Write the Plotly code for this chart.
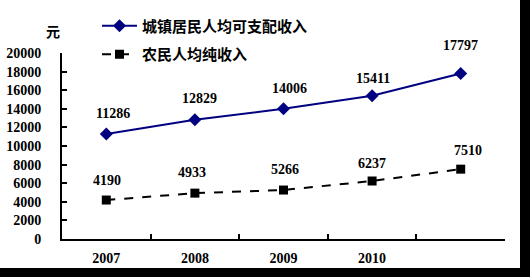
import plotly.graph_objects as go

years = ["2007", "2008", "2009", "2010", "2011"]
year_labels = ["2007", "2008", "2009", "2010", ""]
urban = [11286, 12829, 14006, 15411, 17797]
rural = [4190, 4933, 5266, 6237, 7510]
urban_name = "城镇居民人均可支配收入"
rural_name = "农民人均纯收入"

# label offsets (pixels)
urban_dx = [7, 5, 6, 1, 0]
urban_dy = [21, 21, 20, 17, 28]
rural_dx = [1, -3, 1, 0, 7]
rural_dy = [20, 21, 21, 18, 19]

W, H = 530, 277
L, R, T, B = 62, 25, 52.5, 38.3
pw = W - L - R
ph = H - T - B

num_font = dict(family="Liberation Serif, DejaVu Serif, serif", size=14, color="black")

fig = go.Figure()
fig.add_trace(go.Scatter(
    x=years, y=urban, name=urban_name, mode="lines+markers",
    line=dict(color="#000080", width=2),
    marker=dict(symbol="diamond", size=10, color="#000080"),
    legendgroup="a",
))
fig.add_trace(go.Scatter(
    x=years, y=rural, name=rural_name, mode="lines+markers",
    line=dict(color="black", width=2, dash="dash"),
    marker=dict(symbol="square", size=9, color="black"),
    legendgroup="b",
))

for ys, dxs, dys in [(urban, urban_dx, urban_dy), (rural, rural_dx, rural_dy)]:
    for i, (y, dx, dy) in enumerate(zip(ys, dxs, dys)):
        fig.add_annotation(x=i, y=y, xref="x", yref="y", text="<b>%d</b>" % y, showarrow=False,
                           xshift=dx, yshift=dy, font=num_font)

fig.add_annotation(xref="paper", yref="paper", x=(53 - L) / pw, y=1 + (T - 30) / ph,
                   xanchor="center", yanchor="middle",
                   text="<b>元</b>", showarrow=False,
                   font=dict(family="Noto Sans CJK SC", size=14, color="black"))

# black borders (right & bottom)
fig.add_shape(type="rect", xref="paper", yref="paper",
              x0=(520 - L) / pw, x1=(W + 5 - L) / pw, y0=(T + ph - (H + 5)) / ph, y1=(T + ph + 5) / ph,
              fillcolor="black", line=dict(width=0), layer="above")
fig.add_shape(type="rect", xref="paper", yref="paper",
              x0=(-5 - L) / pw, x1=(W + 5 - L) / pw, y0=(T + ph - (H + 5)) / ph, y1=(T + ph - 267.7) / ph,
              fillcolor="black", line=dict(width=0), layer="above")

fig.update_layout(
    width=W, height=H,
    margin=dict(l=L, r=R, t=T, b=B, autoexpand=False),
    paper_bgcolor="white", plot_bgcolor="white",
    showlegend=True,
    legend=dict(x=(97 - L) / pw, y=1 + (T - 9) / ph, xanchor="left", yanchor="top",
                font=dict(family="Noto Sans CJK SC", size=15, color="black", weight="bold"),
                bgcolor="rgba(0,0,0,0)", tracegroupgap=6, traceorder="grouped",
                itemwidth=35),
    xaxis=dict(type="category", range=[-0.5, 4.5], showline=True, linecolor="black", linewidth=2,
               ticks="inside", tickson="boundaries", ticklen=5, tickcolor="black", tickwidth=2,
               tickvals=years, ticktext=["<b>%s</b>" % t if t else "" for t in year_labels],
               tickfont=num_font, showgrid=False, zeroline=False, ticklabelstandoff=5,
               automargin=False),
    yaxis=dict(range=[0, 20000], dtick=2000, tickformat="d", showline=True, linecolor="black", linewidth=2,
               ticks="inside", ticklen=5, tickcolor="black", tickwidth=2,
               tickfont=num_font, showgrid=False, zeroline=False, ticklabelstandoff=16,
               tickprefix="<b>", ticksuffix="</b>", automargin=False),
)

fig.write_html("out.html")
